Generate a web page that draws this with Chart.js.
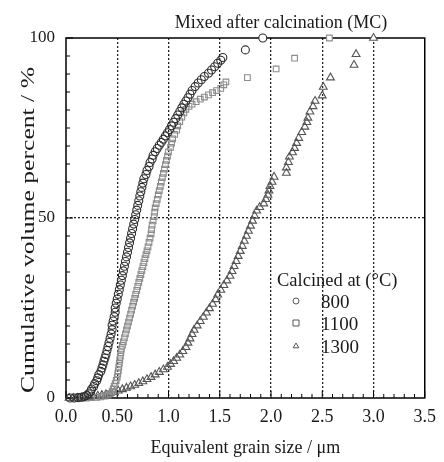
<!DOCTYPE html>
<html><head><meta charset="utf-8">
<script src="https://cdn.jsdelivr.net/npm/chart.js@4"></script>
<style>html,body{margin:0;padding:0;background:#fff}#wrap{width:444px;height:462px}</style>
</head><body><div id="wrap"><canvas id="c" width="444" height="462"></canvas></div>
<script>
const chartTitle = "Mixed after calcination (MC)";
const xTitle = "Equivalent grain size / μm";
const yTitle = "Cumulative volume percent / %";
const legendTitle = "Calcined at (°C)";
const seriesNames = ["800", "1100", "1300"];
const xTickLabels = ["0.0", "0.50", "1.0", "1.5", "2.0", "2.5", "3.0", "3.5"];
const yTickLabels = ["0", "50", "100"];

const x800 = [0.04,0.08,0.12,0.15,0.18,0.20,0.22,0.24,0.25,0.27,0.28,0.30,0.31,0.32,0.34,0.35,0.36,0.37,0.38,0.39,0.40,0.41,0.42,0.43,0.44,0.45,0.45,0.46,0.47,0.48,0.48,0.49,0.50,0.51,0.52,0.53,0.54,0.55,0.56,0.57,0.58,0.59,0.60,0.61,0.62,0.63,0.64,0.65,0.66,0.67,0.68,0.69,0.70,0.71,0.72,0.73,0.74,0.75,0.76,0.78,0.79,0.81,0.82,0.84,0.85,0.87,0.89,0.91,0.93,0.95,0.97,0.99,1.01,1.03,1.05,1.07,1.09,1.11,1.13,1.15,1.17,1.19,1.21,1.23,1.26,1.29,1.32,1.35,1.39,1.42,1.45,1.48,1.51,1.53,1.75,1.92];
const y800 = [0,0,0.1,0.2,0.4,0.7,1.2,1.8,2.5,3.2,4.0,4.8,5.6,6.5,7.4,8.3,9.2,10.2,11.1,12.1,13.2,14.3,15.4,16.6,17.8,19.0,20.2,21.4,22.6,23.8,25.0,26.3,27.5,28.8,30.1,31.4,32.7,34.0,35.3,36.6,37.9,39.2,40.5,41.8,43.1,44.4,45.7,47.0,48.3,49.6,50.9,52.2,53.5,54.8,56.1,57.3,58.5,59.7,60.9,62.1,63.2,64.3,65.4,66.4,67.4,68.4,69.3,70.2,71.0,71.9,72.8,73.7,74.6,75.6,76.6,77.6,78.6,79.6,80.6,81.6,82.5,83.4,84.4,85.4,86.5,87.5,88.4,89.3,90.2,91.1,92.0,93.0,93.8,94.6,96.7,100];

const x1100 = [0.10,0.15,0.20,0.25,0.30,0.34,0.38,0.41,0.43,0.45,0.46,0.47,0.48,0.49,0.50,0.505,0.51,0.515,0.52,0.525,0.53,0.535,0.54,0.55,0.56,0.57,0.58,0.59,0.60,0.61,0.62,0.63,0.64,0.65,0.66,0.67,0.68,0.69,0.70,0.71,0.72,0.73,0.74,0.75,0.76,0.77,0.78,0.79,0.80,0.81,0.82,0.83,0.835,0.84,0.85,0.86,0.865,0.87,0.88,0.89,0.90,0.91,0.92,0.93,0.94,0.95,0.96,0.97,0.98,0.99,1.00,1.02,1.03,1.04,1.06,1.08,1.09,1.11,1.13,1.15,1.17,1.20,1.23,1.27,1.31,1.35,1.39,1.43,1.47,1.51,1.54,1.56,1.77,2.05,2.23,2.57];
const y1100 = [0,0,0,0.1,0.2,0.3,0.5,0.8,1.2,1.8,2.5,3.2,4.0,4.9,5.8,6.7,7.6,8.6,9.6,10.6,11.6,12.6,13.6,14.6,15.6,16.7,17.8,18.9,20.0,21.1,22.2,23.3,24.4,25.5,26.6,27.7,28.8,29.9,31.0,32.1,33.2,34.3,35.4,36.5,37.6,38.7,39.8,40.9,42.0,43.2,44.4,45.6,46.8,48.0,49.2,50.4,51.6,52.8,54.0,55.2,56.4,57.6,58.8,60.0,61.2,62.4,63.6,64.8,66.0,67.2,68.4,69.6,70.8,72.0,73.2,74.4,75.6,76.8,78.0,79.2,80.2,81.0,81.6,82.3,83.0,83.6,84.2,84.8,85.4,86.0,87.0,87.8,89.0,91.4,94.4,100];

const x1300 = [0.03,0.07,0.11,0.15,0.19,0.23,0.27,0.31,0.35,0.39,0.43,0.47,0.51,0.55,0.59,0.63,0.67,0.71,0.75,0.79,0.83,0.87,0.91,0.95,0.99,1.02,1.05,1.08,1.11,1.14,1.17,1.19,1.21,1.23,1.25,1.28,1.31,1.34,1.37,1.40,1.43,1.46,1.48,1.51,1.54,1.57,1.60,1.62,1.64,1.66,1.68,1.70,1.72,1.74,1.76,1.78,1.80,1.82,1.84,1.86,1.89,1.93,1.95,1.97,1.98,1.99,2.01,2.03,2.15,2.15,2.17,2.18,2.21,2.23,2.25,2.27,2.30,2.33,2.35,2.36,2.38,2.41,2.43,2.50,2.51,2.58,2.81,2.83,3.00];
const y1300 = [0,0,0,0.1,0.2,0.3,0.4,0.6,0.8,1.0,1.3,1.6,2.0,2.4,2.8,3.2,3.6,4.1,4.6,5.2,5.8,6.5,7.2,7.9,8.6,9.4,10.2,11.1,12.0,13.0,14.1,15.3,16.5,17.7,18.9,20.1,21.3,22.5,23.7,24.9,26.1,27.4,28.7,30.0,31.3,32.6,33.9,35.2,36.6,38.0,39.4,40.8,42.2,43.6,45.0,46.4,47.8,49.2,50.6,52.0,53.0,54.0,55.2,56.4,57.6,58.8,60.0,61.4,62.5,64.0,65.5,67.0,68.2,69.4,70.8,72.2,73.8,75.3,76.6,77.8,79.5,81.0,82.5,84.0,86.4,89.0,92.5,95.5,100];

const toPts = (xs, ys) => xs.map((x, i) => ({ x: x, y: ys[i] }));
const SERIF = "'Liberation Serif', 'DejaVu Serif', serif";

const styles = [
  { pointStyle: 'circle', radius: 4, color: '#2e2e2e' },
  { pointStyle: 'rect', radius: 4, color: '#8c8c8c' },
  { pointStyle: 'triangle', radius: 4.5, color: '#555555' }
];

const datasets = [[x800, y800], [x1100, y1100], [x1300, y1300]].map((d, i) => ({
  label: seriesNames[i],
  data: toPts(d[0], d[1]),
  pointStyle: styles[i].pointStyle,
  pointRadius: styles[i].radius,
  pointBorderWidth: 1.1,
  pointBorderColor: styles[i].color,
  pointBackgroundColor: c => (c.raw && c.raw.y >= 99) ? '#ffffff' : 'rgba(255,255,255,0)',
  showLine: false,
  clip: false
}));

function drawSymbol(ctx, style, x, y, r, color) {
  ctx.save();
  ctx.strokeStyle = color; ctx.fillStyle = '#fff'; ctx.lineWidth = 1;
  ctx.beginPath();
  if (style === 'circle') ctx.arc(x, y, r, 0, Math.PI * 2);
  else if (style === 'rect') ctx.rect(x - r, y - r, 2 * r, 2 * r);
  else { ctx.moveTo(x, y - r); ctx.lineTo(x + r * 0.95, y + r * 0.6); ctx.lineTo(x - r * 0.95, y + r * 0.6); ctx.closePath(); }
  ctx.fill(); ctx.stroke();
  ctx.restore();
}

const framePlugin = {
  id: 'frame',
  beforeDatasetsDraw(chart) {
    const { ctx, chartArea: a, scales } = chart;
    ctx.save();
    ctx.strokeStyle = '#000';
    ctx.lineWidth = 1.5;
    ctx.strokeRect(a.left, a.top, a.right - a.left, a.bottom - a.top);
    ctx.lineWidth = 1;
    ctx.beginPath();
    for (let k = 0; k <= 35; k++) {
      const px = scales.x.getPixelForValue(k / 10);
      const len = (k % 5 === 0) ? 7 : 4;
      ctx.moveTo(px, a.bottom); ctx.lineTo(px, a.bottom - len);
    }
    for (let k = 0; k <= 20; k++) {
      const py = scales.y.getPixelForValue(k * 5);
      const len = (k % 10 === 0) ? 7 : 4;
      ctx.moveTo(a.left, py); ctx.lineTo(a.left + len, py);
    }
    ctx.stroke();
    ctx.restore();
  },
  afterDraw(chart) {
    const { ctx, chartArea: a } = chart;
    ctx.save();
    ctx.fillStyle = '#1a1a1a';
    ctx.textBaseline = 'alphabetic';
    ctx.font = '18px ' + SERIF;
    ctx.textAlign = 'center';
    ctx.fillText(chartTitle, 281, 28);
    ctx.fillText(xTitle, (a.left + a.right) / 2, 453);
    ctx.save();
    ctx.translate(34, 230);
    ctx.rotate(-Math.PI / 2);
    ctx.font = '19px ' + SERIF;
    const w = ctx.measureText(yTitle).width;
    ctx.scale(326 / w, 1);
    ctx.fillText(yTitle, 0, 0);
    ctx.restore();
    ctx.textAlign = 'left';
    ctx.font = '18.5px ' + SERIF;
    ctx.fillText(legendTitle, 277, 286);
    ctx.font = '19px ' + SERIF;
    const rows = [308, 330, 353];
    const symY = [301, 323, 346];
    seriesNames.forEach((n, i) => {
      drawSymbol(ctx, styles[i].pointStyle, 296, symY[i], 3, '#555');
      ctx.fillStyle = '#1a1a1a';
      ctx.fillText(n, 321, rows[i]);
    });
    ctx.restore();
  }
};

new Chart(document.getElementById('c'), {
  type: 'scatter',
  data: { datasets: datasets },
  options: {
    responsive: false,
    animation: false,
    devicePixelRatio: 1,
    layout: { padding: { top: 38, right: 14, left: 0, bottom: 0 } },
    plugins: { legend: { display: false }, tooltip: { enabled: false } },
    scales: {
      x: {
        type: 'linear', min: 0, max: 3.5,
        afterFit(s) { s.height = 64; },
        ticks: {
          stepSize: 0.5, padding: 8, color: '#1a1a1a',
          font: { family: SERIF, size: 18 },
          callback: (v, i) => xTickLabels[i]
        },
        grid: {
          drawTicks: false, lineWidth: 1.3,
          color: c => (c.tick && c.tick.value > 0.01 && c.tick.value < 3.49) ? '#222' : 'rgba(0,0,0,0)'
        },
        border: { display: false, dash: [2, 2] }
      },
      y: {
        type: 'linear', min: 0, max: 100,
        afterFit(s) { s.width = 66; },
        ticks: {
          stepSize: 50, padding: 11, color: '#1a1a1a',
          font: { family: SERIF, size: 17 },
          callback: (v, i) => yTickLabels[i]
        },
        grid: {
          drawTicks: false, lineWidth: 1.3,
          color: c => (c.tick && c.tick.value === 50) ? '#222' : 'rgba(0,0,0,0)'
        },
        border: { display: false, dash: [2, 2] }
      }
    }
  },
  plugins: [framePlugin]
});
</script>
</body></html>
